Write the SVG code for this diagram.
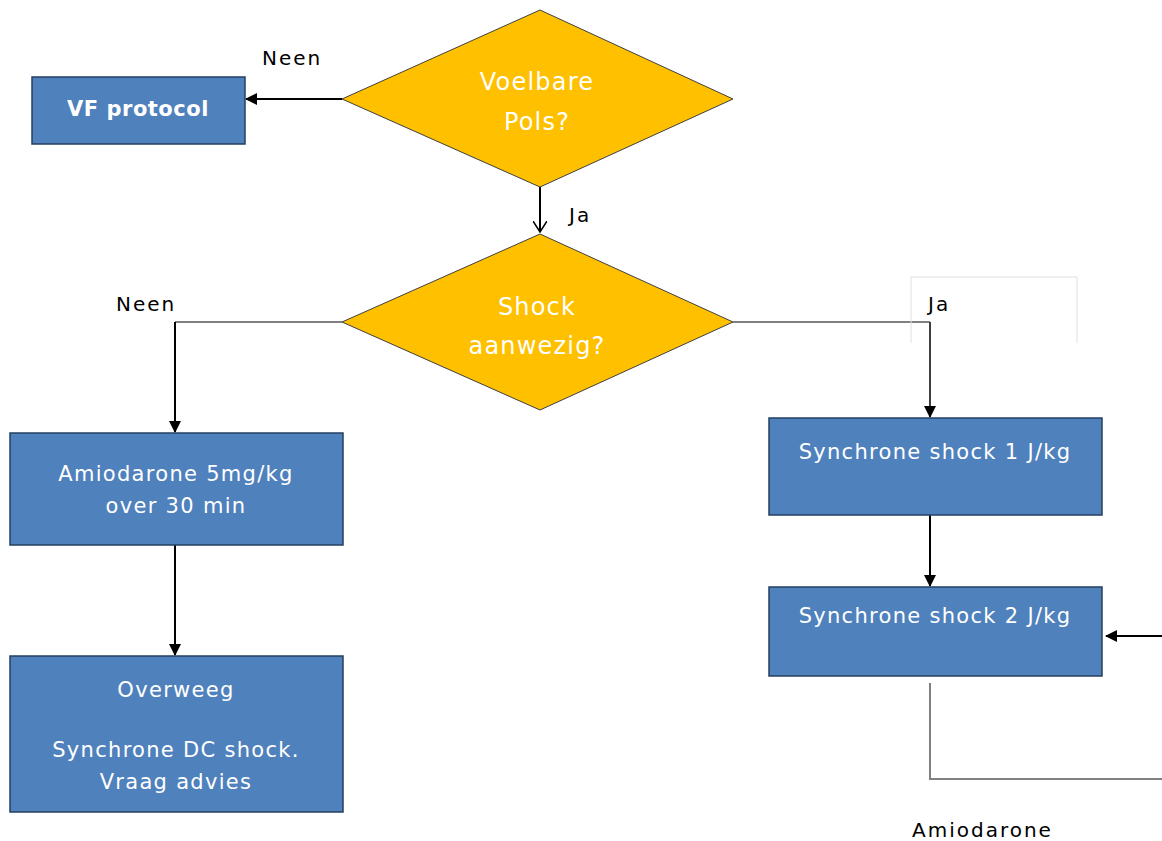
<svg xmlns="http://www.w3.org/2000/svg" width="1162" height="841" viewBox="0 0 1162 841">
<style>
.box{fill:#4F81BD;stroke:#243F60;stroke-width:1.5}
.dia{fill:#FFC000;stroke:#3F3F3F;stroke-width:1}
.t{font-family:"DejaVu Sans",sans-serif;font-size:21px;letter-spacing:1.3px;fill:#fff;text-anchor:middle}
.td{font-family:"DejaVu Sans",sans-serif;font-size:24px;letter-spacing:1.2px;fill:#fff;text-anchor:middle}
.lbl{font-family:"DejaVu Sans",sans-serif;font-size:20px;letter-spacing:2px;fill:#000}
.ln{fill:none;stroke:#000;stroke-width:2}
.lg{fill:none;stroke:#808080;stroke-width:2}
</style>
<defs>
<marker id="ah" markerWidth="12" markerHeight="12" refX="11" refY="6" orient="auto" markerUnits="userSpaceOnUse" viewBox="0 0 12 12"><path d="M0,0 L12,6 L0,12 z" fill="#000"/></marker>
<marker id="ao" markerWidth="12" markerHeight="14" refX="11" refY="7" orient="auto" markerUnits="userSpaceOnUse" viewBox="0 0 12 14"><path d="M0,0 L11,7 L0,14" fill="none" stroke="#000" stroke-width="1.5"/></marker>
</defs>
<rect width="1162" height="841" fill="#fff"/>
<g id="connectors">
<line class="ln" x1="342" y1="99" x2="246" y2="99" marker-end="url(#ah)"/>
<line class="ln" x1="540" y1="187" x2="540" y2="232" marker-end="url(#ao)"/>
<path class="lg" d="M342,322 H175"/>
<line class="ln" x1="175" y1="322" x2="175" y2="432" marker-end="url(#ah)"/>
<path class="lg" d="M733,322 H930"/>
<line class="ln" x1="930" y1="322" x2="930" y2="417" marker-end="url(#ah)" style="stroke:#404040"/>
<line class="ln" x1="175" y1="545" x2="175" y2="655" marker-end="url(#ah)"/>
<line class="ln" x1="930" y1="515" x2="930" y2="586" marker-end="url(#ah)"/>
<line class="ln" x1="1162" y1="636" x2="1106" y2="636" marker-end="url(#ah)"/>
<path class="lg" d="M930,683 V779 H1162"/>
<path d="M911,343 V277 H1077 V343" fill="none" stroke="#e0e0e0" stroke-width="1"/>
<text class="lbl" x="262" y="65">Neen</text>
<text class="lbl" x="569" y="222">Ja</text>
<text class="lbl" x="116" y="311">Neen</text>
<text class="lbl" x="928" y="311">Ja</text>
<text class="lbl" x="912" y="837">Amiodarone</text>
</g>
<g id="vf">
<rect class="box" x="32" y="77" width="213" height="67"/>
<text class="t" x="138" y="116" style="font-weight:bold;letter-spacing:0.5px">VF protocol</text>
</g>
<g id="pols">
<polygon class="dia" points="342,99 540,10 733,99 540,187"/>
<text class="td" x="537" y="90">Voelbare</text>
<text class="td" x="537" y="130">Pols?</text>
</g>
<g id="shock">
<polygon class="dia" points="342,322 540,234 733,322 540,410"/>
<text class="td" x="537" y="315">Shock</text>
<text class="td" x="537" y="354">aanwezig?</text>
</g>
<g id="amio">
<rect class="box" x="10" y="433" width="333" height="112"/>
<text class="t" x="176" y="481">Amiodarone 5mg/kg</text>
<text class="t" x="176" y="513">over 30 min</text>
</g>
<g id="overweeg">
<rect class="box" x="10" y="656" width="333" height="156"/>
<text class="t" x="176" y="697">Overweeg</text>
<text class="t" x="176" y="757">Synchrone DC shock.</text>
<text class="t" x="176" y="789">Vraag advies</text>
</g>
<g id="sync1">
<rect class="box" x="769" y="418" width="333" height="97"/>
<text class="t" x="935" y="459">Synchrone shock 1 J/kg</text>
</g>
<g id="sync2">
<rect class="box" x="769" y="587" width="333" height="89"/>
<text class="t" x="935" y="623">Synchrone shock 2 J/kg</text>
</g>
</svg>
